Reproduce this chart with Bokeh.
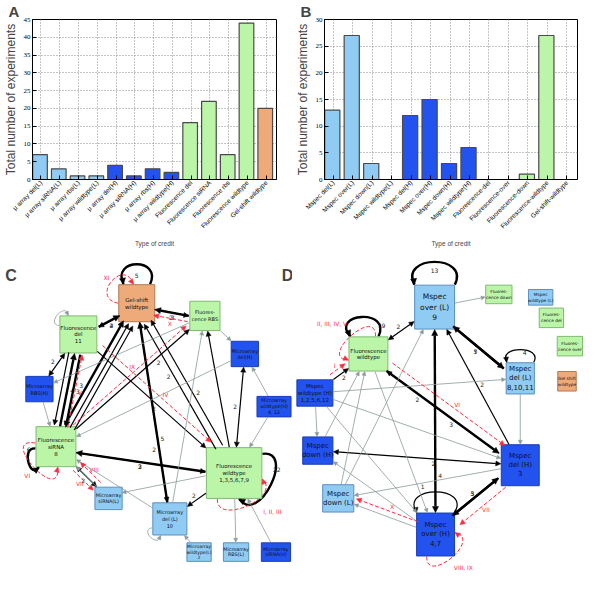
import math
from bokeh.plotting import figure
from bokeh.models import ColumnDataSource, Range1d, FixedTicker, Label, Arrow, NormalHead
from bokeh.layouts import column, row
from bokeh.embed import file_html
from bokeh.resources import INLINE
from bokeh.core.properties import value

# ---------------- Panel A data ----------------
a_categories = ["\u03bc array del(L)", "\u03bc array siRNA(L)", "\u03bc array rbs(L)", "\u03bc array wildtype(L)",
                "\u03bc array del(H)", "\u03bc array siRNA(H)", "\u03bc array rbs(H)", "\u03bc array wildtype(H)",
                "Fluorescence del", "Fluorescence siRNA", "Fluorescence rbs", "Fluorescence wildtype",
                "Gel-shift wildtype"]
a_values = [7, 3, 1, 1, 4, 1, 3, 2, 16, 22, 7, 44, 20]
a_group = ["L", "L", "L", "L", "H", "H", "H", "H", "F", "F", "F", "F", "G"]

# ---------------- Panel B data ----------------
b_categories = ["Mspec del(L)", "Mspec over(L)", "Mspec down(L)", "Mspec wildtype(L)",
                "Mspec del(H)", "Mspec over(H)", "Mspec down(H)", "Mspec wildtype(H)",
                "Fluorescence-del", "Fluorescence-over", "Fluorescence-down", "Fluorescence-wildtype",
                "Gel-shift-wildtype"]
b_values = [13, 27, 3, 0, 12, 15, 3, 6, 0, 0, 1, 27, 0]
b_group = ["L", "L", "L", "L", "H", "H", "H", "H", "F", "F", "F", "F", "G"]

# ---------------- Panel C network ----------------
c_nodes = ["Gel-shift\nwildtype", "Fluores-\ncence RBS", "Fluorescence\ndel\n11", "Microarray\ndel(H)",
           "Microarray\nRBS(H)", "Microarray\nwildtype(H)\n4, 12", "Fluorescence\nsiRNA\n8",
           "Fluorescence\nwildtype\n1,3,5,6,7,9", "Microarray\nsiRNA(L)", "Microarray\ndel (L)\n10",
           "Microarray\nwildtype(L)\n2", "Microarray\nRBS(L)", "Microarray\nsiRNA(H)"]
c_group = ["G", "F", "F", "H", "H", "H", "F", "F", "L", "L", "L", "L", "H"]
# (source, target, weight label)
c_black = [(1, 0, "3"), (0, 1, "2"), (2, 0, "4"), (0, 2, "2"), (2, 4, "2"), (2, 6, "3"), (6, 2, "4"),
           (2, 6, ""), (6, 0, "3"), (6, 0, ""), (6, 0, ""), (2, 7, "2"), (9, 0, "5"), (7, 0, "2"),
           (7, 0, "2"), (7, 1, ""), (6, 1, "2"), (0, 9, "2"), (7, 6, "3"), (6, 7, "2"), (6, 8, "2"),
           (7, 9, "2"), (3, 7, "2")]
c_grey = [(1, 3), (5, 3), (5, 7), (1, 4), (4, 6), (3, 6), (7, 8), (8, 6), (7, 11), (12, 7), (10, 9),
          (9, 1), (9, 6)]
c_red = [(1, 0, "X"), (6, 2, "V"), (6, 1, "IX"), (2, 7, "IV"), (6, 8, "VII"), (8, 6, "VIII")]
c_loops = [(0, "5"), (0, "XI"), (2, ""), (6, "6"), (6, "VI"), (7, "22"), (7, "I, II, III"), (9, "")]

# ---------------- Panel D network ----------------
d_nodes = ["Mspec\nover (L)\n9", "Fluores-\ncence down", "Mspec\nwildtype (L)", "Fluores-\ncence del",
           "Fluores-\ncence over", "Gel shift\nwildtype", "Fluorescence\nwildtype", "Mspec\ndel (L)\n8,10,11",
           "Mspec\nwildtype (H)\n1,2,5,6,12", "Mspec\ndown (H)", "Mspec\ndown (L)", "Mspec\nover (H)\n4,7",
           "Mspec\ndel (H)\n3"]
d_group = ["L", "F", "L", "F", "F", "G", "F", "L", "H", "H", "L", "H", "H"]
d_black = [(0, 6, "2"), (7, 0, "7"), (0, 7, "5"), (8, 6, "2"), (6, 12, "3"), (12, 6, "2"), (9, 12, "2"),
           (12, 11, "5"), (11, 12, "3"), (11, 0, "4"), (12, 0, "2")]
d_grey = [(0, 1), (8, 7), (8, 9), (8, 12), (12, 10), (10, 0), (10, 6), (11, 10), (11, 9), (6, 11),
          (7, 12), (8, 11), (9, 6)]
d_red = [(8, 6, "I"), (6, 12, "VI"), (12, 11, "VII"), (11, 10, "X")]
d_loops = [(0, "13"), (6, "19"), (6, "II, III, IV, V"), (7, "4"), (11, "1"), (11, "VIII, IX")]

# ---------------- layout / style (not data) ----------------
FILL = {"L": "#8fcbf3", "H": "#2253ef", "F": "#bbf5a8", "G": "#efaa7a"}
EDGE = {"L": "#5a8fbf", "H": "#1a3db5", "F": "#7fba70", "G": "#b07a52"}

c_pos_x = [140, 210, 80, 251, 40, 281, 57, 240, 111, 174, 204, 242, 283]
c_pos_y = [312, 325, 344, 364, 400, 418, 459, 486, 512, 533, 567, 567, 567]
c_size_w = [37, 31, 38, 28, 28, 35, 41, 57, 28, 35, 25, 26, 30]
c_size_h = [38, 30, 38, 26, 26, 21, 41, 52, 23, 33, 19, 19, 19]
c_font = [5.5, 5, 5.5, 5, 5, 4.8, 5.5, 5.5, 4.8, 5, 4.5, 4.8, 4.8]
# per-edge layout: (offset, label fraction, both heads)
c_black_lay = [(-3, .45, 0), (3, .5, 0), (3, .5, 0), (-3, .5, 0), (0, .5, 1), (-6, .5, 0), (0, .5, 0),
               (6, .5, 0), (-3, .35, 0), (3, .5, 0), (8, .5, 0), (0, .55, 0), (0, .35, 0), (-4, .6, 0),
               (4, .4, 0), (0, .5, 0), (0, .7, 0), (0, .7, 0), (-3, .5, 0), (3, .5, 0), (0, .5, 1),
               (0, .5, 0), (0, .5, 1)]
c_grey_lay = [0, 0, 0, 0, 0, 0, 3, 0, 0, 0, 0, 0, 0]
c_red_lay = [(-9, .5), (8, .5), (-5, .55), (-8, .55), (5, .5), (6, .5)]
# loops: (start angle, end angle, reach, bend, style, label angle, label dist)
c_loop_lay = [(-55, -125, 30, 10, "thick", -90, 9), (180, 260, 30, 10, "red", -140, 16),
              (205, 242, 15, -20, "grey", 0, 0), (175, 130, 16, -10, "thick", 175, 7),
              (190, 85, 40, 0, "red", 135, 12), (-34, 79, 35, 25, "thick", -5, 15),
              (123, 12, 28, 30, "red", 45, 18), (153, 119, 14, -20, "grey", 0, 0)]

d_pos_x = [446, 512, 555, 566, 585, 582, 378, 534, 323, 326, 347, 447, 534]
d_pos_y = [316, 303, 306, 327, 356, 392, 364, 389, 404, 463, 512, 549, 478]
d_size_w = [41, 27, 25, 25, 26, 19, 40, 29, 37, 31, 32, 39, 39]
d_size_h = [45, 19, 16, 20, 20, 20, 35, 32, 27, 28, 28, 44, 42]
d_font = [7.5, 4.3, 4.3, 4.3, 4.3, 4.3, 5.5, 7, 5.6, 7, 7, 7, 7]
d_black_lay = [(0, .5, 1), (-3, .5, 0), (3, .5, 0), (0, .5, 0), (3, .6, 0), (-3, .7, 0), (0, .6, 1),
               (4, .5, 0), (-4, .5, 0), (0, .2, 1), (0, .5, 0)]
d_grey_lay = [0] * 13
d_red_lay = [(-6, .5), (-7, .55), (-8, .5), (6, .45)]
d_loop_lay = [(-48, -132, 35, 15, "thick", -90, 15), (-60, -136, 32, 5, "thick", -65, 12),
              (-68, -197, 32, 20, "red", -140, 22), (-50, -130, 20, 10, "black", -80, 10),
              (-49, -131, 33, 10, "black", -105, 28), (112, -6, 30, 20, "red", 50, 15)]

STY = {"thick": ("black", 2.4, "solid", 6), "black": ("black", 1.2, "solid", 5),
       "grey": ("#8b9a9b", 0.8, "solid", 4), "red": ("#ff2b3f", 1.0, "4 2", 5)}


def bar_panel(labels, values, groups, ymax, letter, left, right):
    n = len(labels)
    p = figure(width=292, height=250, x_range=Range1d(-0.45, n - 0.45), y_range=Range1d(0, ymax),
               output_backend="svg", toolbar_location=None, min_border_left=left,
               min_border_right=right, min_border_top=0, min_border_bottom=2)
    src = ColumnDataSource(dict(x=[i - 0.05 for i in range(n)], top=values,
                                fill=[FILL[g] for g in groups]))
    p.vbar(x="x", top="top", width=0.78, source=src, fill_color="fill",
           line_color="#4a4a4a", line_width=1.2)
    p.xaxis.ticker = FixedTicker(ticks=list(range(n)))
    p.xaxis.major_label_overrides = {i: lab for i, lab in enumerate(labels)}
    p.xaxis.major_label_orientation = math.pi / 4
    p.xaxis.major_label_text_font = "Liberation Sans"
    p.xaxis.major_label_text_font_size = "6.5px"
    p.xaxis.axis_label = "Type of credit"
    p.xaxis.axis_label_text_font = "Liberation Sans"
    p.xaxis.axis_label_text_font_size = "6.5px"
    p.xaxis.axis_label_text_font_style = "normal"
    p.xaxis.axis_label_standoff = 5
    p.yaxis.ticker = FixedTicker(ticks=list(range(0, ymax + 1, 5)))
    p.yaxis.major_label_text_font = "Liberation Serif"
    p.yaxis.major_label_text_font_size = "7px"
    p.yaxis.axis_label = "Total number of experiments"
    p.yaxis.axis_label_text_font = "Liberation Sans"
    p.yaxis.axis_label_text_font_size = "12px"
    p.yaxis.axis_label_text_font_style = "normal"
    p.yaxis.axis_label_standoff = 3
    for ax in (p.xaxis, p.yaxis):
        ax.major_tick_in = 4
        ax.major_tick_out = 0
        ax.minor_tick_line_color = None
        ax.axis_line_color = "black"
        ax.major_label_standoff = 2
        ax.major_label_text_color = "black"
    p.xgrid.grid_line_dash = "1 2"
    p.ygrid.grid_line_dash = "1 2"
    p.xgrid.grid_line_color = "#888888"
    p.ygrid.grid_line_color = "#888888"
    p.outline_line_color = "black"
    p.outline_line_alpha = 1
    p.title.text = letter
    p.title.text_font = "Liberation Sans"
    p.title.text_font_size = "15px"
    p.title.text_font_style = "bold"
    p.title.align = "left"
    p.title.offset = -24
    p.title.standoff = 0
    return p


def net_panel(x0, names, groups, X, Y, W, H, FS, black, black_lay, grey, grey_lay, red, red_lay,
              loops, loop_lay, letters):
    p = figure(width=292, height=325, x_range=Range1d(x0, x0 + 300), y_range=Range1d(591, 258),
               x_axis_type=None, y_axis_type=None, output_backend="svg", toolbar_location=None,
               min_border=0)
    p.outline_line_color = None

    def bpt(i, cx, cy, ux, uy):
        hw = W[i] / 2 + 0.5
        hh = H[i] / 2 + 0.5
        tx = hw / abs(ux) if abs(ux) > 1e-9 else 1e9
        ty = hh / abs(uy) if abs(uy) > 1e-9 else 1e9
        t = min(tx, ty)
        return cx + ux * t, cy + uy * t

    groups_arrows = {}
    lab_black = dict(x=[], y=[], t=[])
    lab_red = dict(x=[], y=[], t=[])

    def add_edge(s, t, style, lab, off, lf, both):
        dx, dy = X[t] - X[s], Y[t] - Y[s]
        L = math.hypot(dx, dy)
        ux, uy = dx / L, dy / L
        px, py = -uy, ux
        a = bpt(s, X[s] + px * off, Y[s] + py * off, ux, uy)
        b = bpt(t, X[t] + px * off, Y[t] + py * off, -ux, -uy)
        key = (style, both)
        d = groups_arrows.setdefault(key, dict(x0=[], y0=[], x1=[], y1=[]))
        d["x0"].append(a[0]); d["y0"].append(a[1]); d["x1"].append(b[0]); d["y1"].append(b[1])
        if lab:
            sg = -1 if off < 0 else 1
            lx = a[0] + (b[0] - a[0]) * lf + px * 5 * sg
            ly = a[1] + (b[1] - a[1]) * lf + py * 5 * sg
            tgt = lab_red if style == "red" else lab_black
            tgt["x"].append(lx); tgt["y"].append(ly); tgt["t"].append(lab)

    for (s, t, lab), (off, lf, both) in zip(black, black_lay):
        add_edge(s, t, "thick" if lab in ("3", "4", "5", "7") else "black", lab, off, lf, both)
    for (s, t), off in zip(grey, grey_lay):
        add_edge(s, t, "grey", "", off, .5, 0)
    for (s, t, lab), (off, lf) in zip(red, red_lay):
        add_edge(s, t, "red", lab, off, lf, 0)

    # loops
    for (i, lab), (a0, a1, reach, bend, style, la, ld) in zip(loops, loop_lay):
        sgn = 1 if a1 > a0 else -1
        r0, r1 = math.radians(a0), math.radians(a1)
        p0 = bpt(i, X[i], Y[i], math.cos(r0), math.sin(r0))
        p1 = bpt(i, X[i], Y[i], math.cos(r1), math.sin(r1))
        d0 = math.radians(a0 + bend * sgn)
        d1 = math.radians(a1 - bend * sgn)
        c0 = (p0[0] + reach * math.cos(d0), p0[1] + reach * math.sin(d0))
        c1 = (p1[0] + reach * math.cos(d1), p1[1] + reach * math.sin(d1))
        col, lw, dash, hs = STY[style]
        p.bezier(x0=[p0[0]], y0=[p0[1]], x1=[p1[0]], y1=[p1[1]], cx0=[c0[0]], cy0=[c0[1]],
                 cx1=[c1[0]], cy1=[c1[1]], line_color=col, line_width=lw, line_dash=dash)
        tt = 0.85
        bx = ((1 - tt) ** 3 * p0[0] + 3 * (1 - tt) ** 2 * tt * c0[0] + 3 * (1 - tt) * tt ** 2 * c1[0]
              + tt ** 3 * p1[0])
        by = ((1 - tt) ** 3 * p0[1] + 3 * (1 - tt) ** 2 * tt * c0[1] + 3 * (1 - tt) * tt ** 2 * c1[1]
              + tt ** 3 * p1[1])
        p.add_layout(Arrow(x_start=bx, y_start=by, x_end=p1[0], y_end=p1[1], line_alpha=0,
                           end=NormalHead(size=hs, fill_color=col, line_color=col, line_width=0.5)))
        if lab:
            rl = math.radians(la)
            qx, qy = bpt(i, X[i], Y[i], math.cos(rl), math.sin(rl))
            tgt = lab_red if style == "red" else lab_black
            tgt["x"].append(qx + ld * math.cos(rl)); tgt["y"].append(qy + ld * math.sin(rl))
            tgt["t"].append(lab)

    for (style, both), d in groups_arrows.items():
        col, lw, dash, hs = STY[style]
        head = lambda: NormalHead(size=hs, fill_color=col, line_color=col, line_width=0.5)
        p.add_layout(Arrow(x_start="x0", y_start="y0", x_end="x1", y_end="y1",
                           source=ColumnDataSource(d), line_color=col, line_width=lw,
                           line_dash=dash, end=head(), start=head() if both else None))

    src = ColumnDataSource(dict(x=X, y=Y, w=W, h=H, fill=[FILL[g] for g in groups],
                                line=[EDGE[g] for g in groups], name=names,
                                fs=["%gpx" % v for v in FS]))
    p.rect(x="x", y="y", width="w", height="h", fill_color="fill", line_color="line",
           line_width=1, source=src)
    p.text(x="x", y="y", text="name", text_font_size="fs", text_align="center",
           text_baseline="middle", text_font=value("DejaVu Sans"), text_color="#111111",
           text_line_height=1.15, source=src)
    p.text(x="x", y="y", text="t", source=ColumnDataSource(lab_black), text_font_size="6px",
           text_align="center", text_baseline="middle", text_font=value("DejaVu Sans"),
           text_color="#222222")
    p.text(x="x", y="y", text="t", source=ColumnDataSource(lab_red), text_font_size="6px",
           text_align="center", text_baseline="middle", text_font=value("DejaVu Sans"),
           text_color="#ff3050")
    for (lx, ly, lt) in letters:
        p.add_layout(Label(x=lx, y=ly, text=lt, text_font_size="16px", text_font_style="bold",
                           text_font="Liberation Sans", text_baseline="top"))
    return p


pA = bar_panel(a_categories, a_values, a_group, 45, "A", 27, 16)
pB = bar_panel(b_categories, b_values, b_group, 30, "B", 28, 7)
pC = net_panel(0, c_nodes, c_group, c_pos_x, c_pos_y, c_size_w, c_size_h, c_font,
               c_black, c_black_lay, c_grey, c_grey_lay, c_red, c_red_lay, c_loops, c_loop_lay,
               [(5, 275, "C"), (289, 275, "D")])
pD = net_panel(300, d_nodes, d_group, d_pos_x, d_pos_y, d_size_w, d_size_h, d_font,
               d_black, d_black_lay, d_grey, d_grey_lay, d_red, d_red_lay, d_loops, d_loop_lay, [])

layout = column(row(pA, pB), row(pC, pD))
open("out.html", "w").write(file_html(layout, INLINE))
